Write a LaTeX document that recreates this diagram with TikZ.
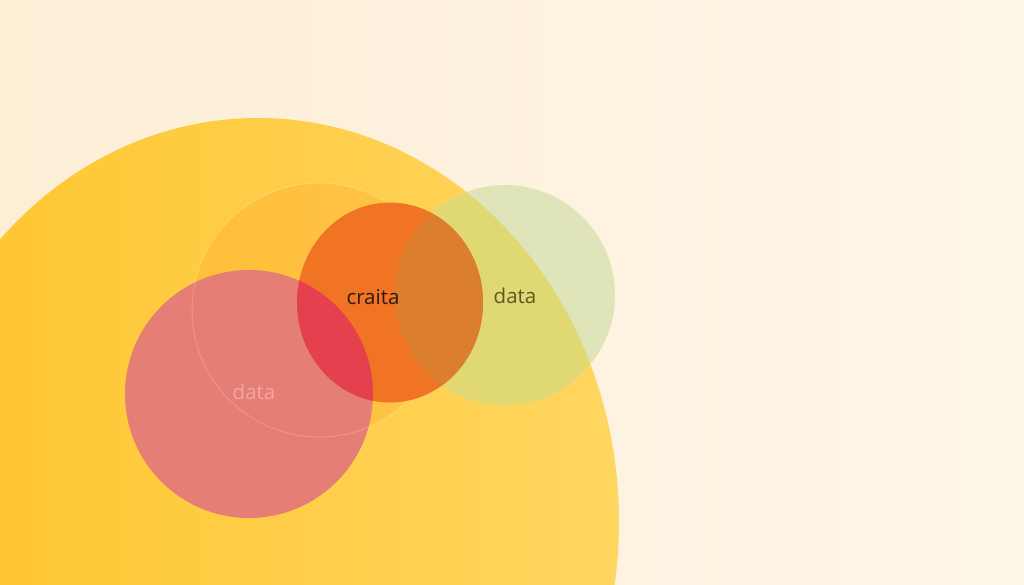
\documentclass[tikz,border=0pt]{standalone}
\usepackage{fontspec}
\setmainfont{Open Sans}
\begin{document}
\begin{tikzpicture}[x=1pt,y=-1pt,
  lbl/.style={font=\fontsize{20.5}{24}\selectfont, inner sep=0pt, anchor=center}]
\definecolor{bgL}{HTML}{FDEED6}
\definecolor{bgR}{HTML}{FEF6E8}
\definecolor{yelL}{HTML}{FFC42C}
\definecolor{yelR}{HTML}{FFD660}
\definecolor{grnC}{HTML}{DFE4B9}
\definecolor{grnY}{HTML}{E0D872}
\definecolor{pinkC}{HTML}{E57F76}
\definecolor{orgC}{HTML}{F07424}
\definecolor{crimC}{HTML}{E4404E}
\definecolor{orgG}{HTML}{DB7F2F}
\definecolor{txtDark}{HTML}{2B1A12}
\definecolor{txtOlive}{HTML}{5B5A22}
\definecolor{txtPink}{HTML}{F3A7A1}
\useasboundingbox (0,0) rectangle (1024,585);
% background
\shade[left color=bgL,right color=bgR] (0,0) rectangle (1024,585);
% big yellow shape
\begin{scope}
  \clip (0,0) rectangle (1024,585);
  \shade[left color=yelL,right color=yelR] (258,522) ellipse[x radius=361pt, y radius=404pt];
\end{scope}
% faint circle
\fill[orange!85!red, opacity=0.13] (319,310) circle[radius=127pt];
\draw[white, opacity=0.22, line width=1pt] (319,310) circle[radius=127pt];
% green circle
\fill[grnC] (505,295) circle[radius=110pt];
\begin{scope}
  \clip (258,522) ellipse[x radius=361pt, y radius=404pt];
  \fill[grnY] (505,295) circle[radius=110pt];
\end{scope}
% pink circle
\fill[pinkC] (249,394) circle[radius=124pt];
\begin{scope}
  \clip (249,394) circle[radius=124pt];
  \draw[white, opacity=0.18, line width=1pt] (319,310) circle[radius=127pt];
\end{scope}
% orange ellipse
\fill[orgC] (390,302.5) ellipse[x radius=93pt, y radius=100pt];
\begin{scope}
  \clip (390,302.5) ellipse[x radius=93pt, y radius=100pt];
  \fill[crimC] (249,394) circle[radius=124pt];
  \fill[orgG] (505,295) circle[radius=110pt];
\end{scope}
% labels
\node[lbl, text=txtDark] (craita) at (373,297) {craita};
\node[lbl, text=txtOlive] (dataG) at (515,296) {data};
\node[lbl, text=txtPink] (dataP) at (254,392) {data};
\end{tikzpicture}
\end{document}
